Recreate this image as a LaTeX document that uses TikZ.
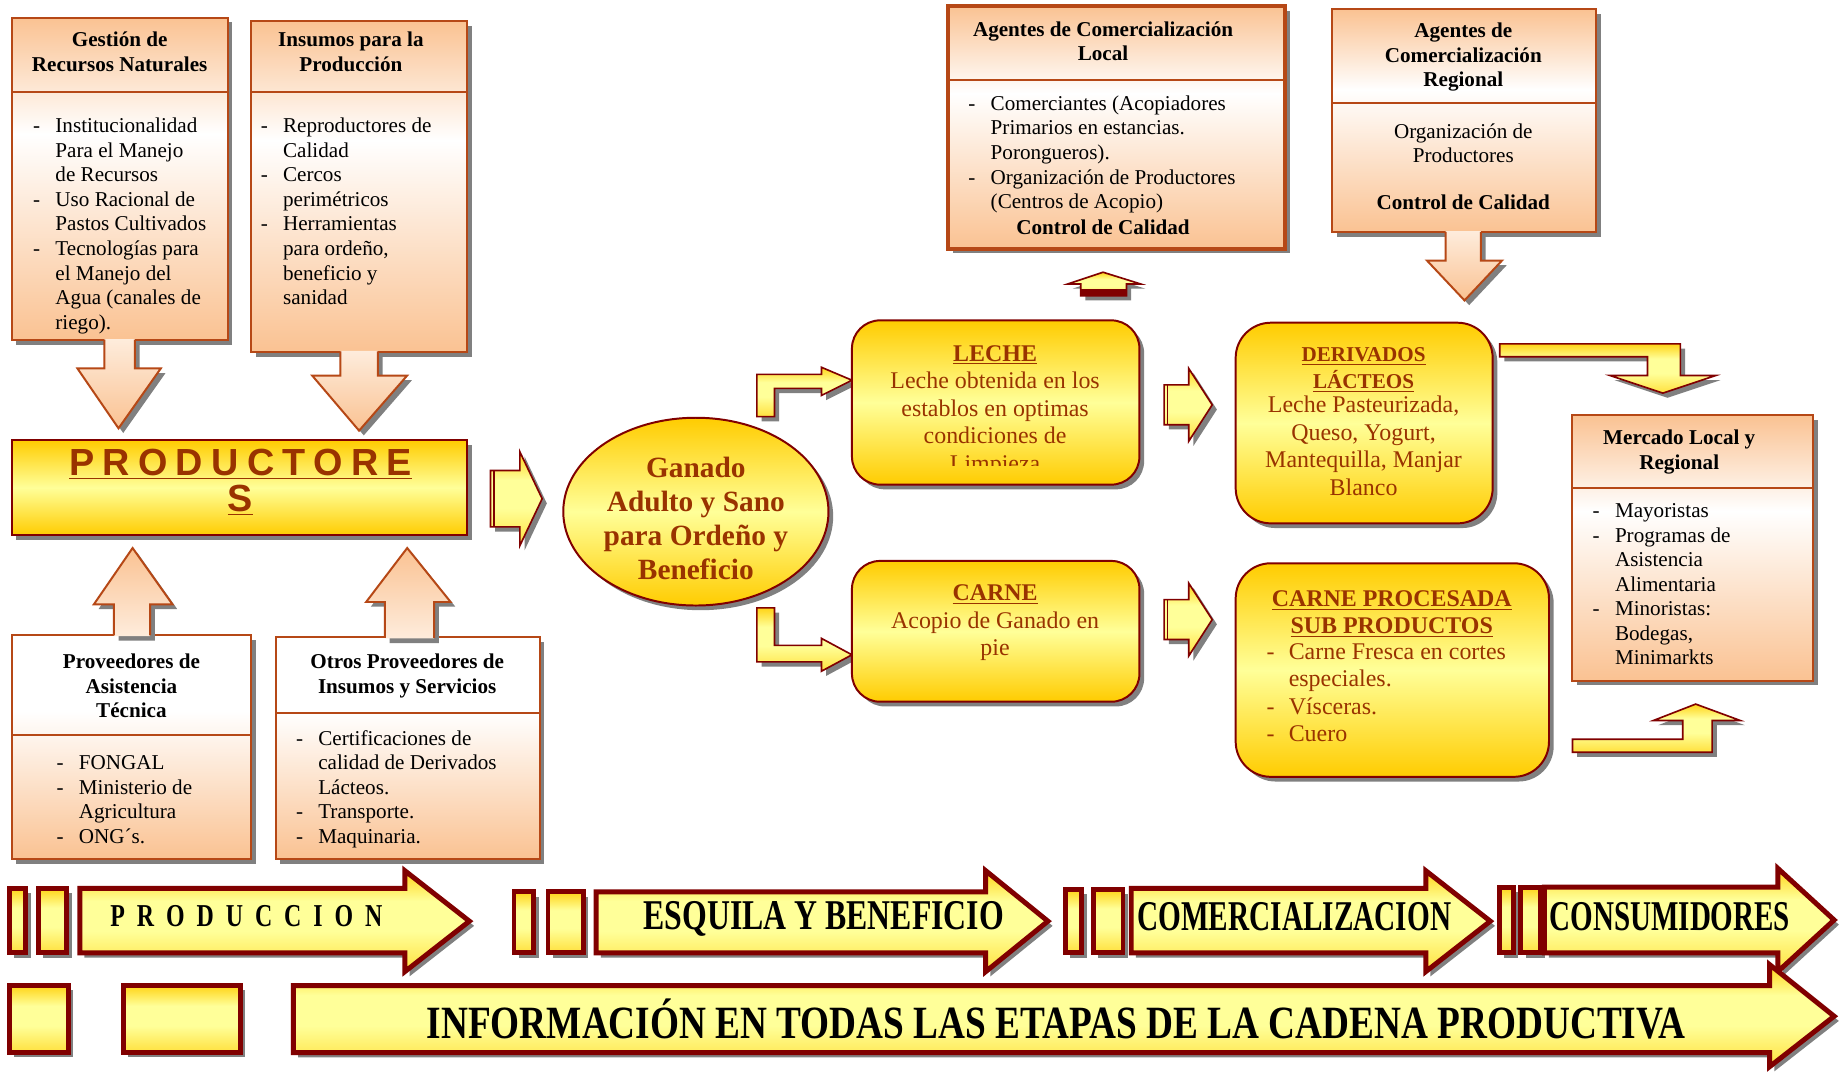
\documentclass[tikz,border=0pt]{standalone}
\usepackage{fontspec}
\setmainfont{Liberation Serif}
\newfontfamily\prodfont[LetterSpace=22]{Liberation Sans}
\usetikzlibrary{shadows}
\definecolor{peach}{RGB}{250,194,146}
\definecolor{peachlight}{RGB}{254,236,220}
\definecolor{rust}{RGB}{182,72,22}
\definecolor{gold}{RGB}{255,204,0}
\definecolor{paleyellow}{RGB}{255,255,153}
\definecolor{maroon}{RGB}{128,0,0}
\definecolor{brownred}{RGB}{153,51,0}
\definecolor{shadowgray}{RGB}{128,128,128}
\pgfdeclareverticalshading{peachmid}{100bp}{color(0bp)=(peach); color(25bp)=(peach); color(57bp)=(white); color(75bp)=(peach); color(100bp)=(peach)}
\pgfdeclareverticalshading{peachlow}{100bp}{color(0bp)=(peach); color(25bp)=(peach); color(58bp)=(white); color(100bp)=(white)}
\pgfdeclareverticalshading{peachdown}{100bp}{color(0bp)=(peach); color(25bp)=(peach); color(75bp)=(peachlight); color(100bp)=(peachlight)}
\pgfdeclareverticalshading{peachup}{100bp}{color(0bp)=(peachlight); color(25bp)=(peachlight); color(75bp)=(peach); color(100bp)=(peach)}
\pgfdeclareverticalshading{goldmid}{100bp}{color(0bp)=(gold); color(25bp)=(gold); color(50bp)=(paleyellow); color(75bp)=(gold); color(100bp)=(gold)}
\pgfdeclareverticalshading{arrowgold}{100bp}{color(0bp)=(gold!60!paleyellow); color(25bp)=(gold!60!paleyellow); color(45bp)=(paleyellow); color(60bp)=(paleyellow); color(75bp)=(gold!85!paleyellow); color(100bp)=(gold!85!paleyellow)}
\newcommand{\dashitem}{\makebox[13.5pt][l]{-}}
\newcommand{\noitem}{\hspace*{13.5pt}}
\newcommand{\narrow}[2]{\scalebox{#1}[1]{#2}}
\tikzset{
shade box/.style={drop shadow={shadow xshift=0.1cm, shadow yshift=-0.1cm, fill=shadowgray, opacity=1}},
peachbox/.style={draw=rust, line width=1.2pt, shade, shading=peachmid, shade box},
peachlowbox/.style={draw=rust, line width=1.2pt, shade, shading=peachlow, shade box},
goldbox/.style={draw=maroon, line width=1.2pt, shade, shading=goldmid, shade box},
rustline/.style={draw=rust, line width=1.2pt},
peachdownfill/.style={shade, shading=peachdown, shade box},
peachupfill/.style={shade, shading=peachup, shade box},
goldarrow/.style={draw=maroon, line width=1pt, line join=miter, shade, shading=arrowgold, shade box},
bandarrow/.style={draw=maroon, line width=3pt, line join=miter, shade, shading=arrowgold, shade box},
boxhead/.style={inner sep=0pt, align=center, font=\bfseries\fontsize{12.8}{14.9}\selectfont},
boxtext/.style={inner sep=0pt, align=left, font=\fontsize{12.8}{14.9}\selectfont},
goldtext/.style={inner sep=0pt, align=center, text=brownred, font=\fontsize{14.5}{16.7}\selectfont},
bandtext/.style={inner sep=0pt, font=\bfseries\fontsize{25.7}{28}\selectfont}
}
\begin{document}
\begin{tikzpicture}[x=0.025cm, y=-0.025cm]
\fill[white] (0,0) rectangle (1568,913);
\useasboundingbox (0,0) rectangle (1568,913);

\path[peachbox] (10,15) rectangle (194,290);
\draw[rustline] (10,78) -- (194,78);
\node[boxhead, anchor=north] (gestionT) at (102,25) {\strut Gestión de\\Recursos Naturales};
\node[boxtext, anchor=north west] (gestionB) at (28,98) {\strut\dashitem Institucionalidad\\\noitem Para el Manejo\\\noitem de Recursos\\\dashitem Uso Racional de\\\noitem Pastos Cultivados\\\dashitem Tecnologías para\\\noitem el Manejo del\\\noitem Agua (canales de\\\noitem riego).};
\path[peachbox] (214,18) rectangle (398,300);
\draw[rustline] (214,78) -- (398,78);
\node[boxhead, anchor=north] (insumosT) at (299,25) {\strut Insumos para la\\Producción};
\node[boxtext, anchor=north west] (insumosB) at (222,98) {\strut\dashitem Reproductores de\\\noitem Calidad\\\dashitem Cercos\\\noitem perimétricos\\\dashitem Herramientas\\\noitem para ordeño,\\\noitem beneficio y\\\noitem sanidad};
\path[peachdownfill] (89,289) -- (115,289) -- (115,314) -- (137,314) -- (101,365) -- (66,314) -- (89,314) -- cycle;
\draw[rustline] (89,289.5) -- (89,314) -- (66,314) -- (101,365) -- (137,314) -- (115,314) -- (115,289.5);
\path[peachdownfill] (290,299) -- (322,299) -- (322,320) -- (347,320) -- (306,367) -- (266,320) -- (290,320) -- cycle;
\draw[rustline] (290,299.5) -- (290,320) -- (266,320) -- (306,367) -- (347,320) -- (322,320) -- (322,299.5);

\path[goldbox] (10,375) rectangle (398,456);
\node[inner sep=0pt, align=center, text=brownred, font=\prodfont\bfseries\fontsize{22.9}{21.5}\selectfont] (productores) at (205,411) {\underline{PRODUCTORE}\\\underline{S}};
\path[goldarrow] (418,401) -- (443,401) -- (443,385) -- (462,425) -- (443,465) -- (443,449) -- (418,449) -- cycle;
\draw[maroon, line width=1pt] (421,401) -- (421,449);

\path[peachlowbox] (10,541) rectangle (214,732);
\draw[rustline] (10,626) -- (214,626);
\node[boxhead, anchor=north] (proveedoresT) at (112,555) {\strut Proveedores de\\Asistencia\\Técnica};
\node[boxtext, anchor=north west] (proveedoresB) at (48,641) {\strut\dashitem FONGAL\\\dashitem Ministerio de\\\noitem Agricultura\\\dashitem ONG´s.};
\path[peachlowbox] (235,543) rectangle (460,732);
\draw[rustline] (235,608) -- (460,608);
\node[boxhead, anchor=north] (otrosT) at (347,555) {\strut Otros Proveedores de\\Insumos y Servicios};
\node[boxtext, anchor=north west] (otrosB) at (252,620) {\strut\dashitem Certificaciones de\\\noitem calidad de Derivados\\\noitem Lácteos.\\\dashitem Transporte.\\\dashitem Maquinaria.};
\path[peachupfill] (97,542) -- (97,515) -- (80,515) -- (113,467) -- (147,515) -- (128,515) -- (128,542) -- cycle;
\draw[rustline] (97,541.5) -- (97,515) -- (80,515) -- (113,467) -- (147,515) -- (128,515) -- (128,541.5);
\path[peachupfill] (328,544) -- (328,513) -- (312,513) -- (347,467) -- (384,513) -- (370,513) -- (370,544) -- cycle;
\draw[rustline] (328,543.5) -- (328,513) -- (312,513) -- (347,467) -- (384,513) -- (370,513) -- (370,543.5);

\path[goldbox] (593,436) ellipse [x radius=113, y radius=80];
\node[goldtext, anchor=north, font=\bfseries\fontsize{17.8}{20.6}\selectfont] (ganado) at (593,386) {\strut Ganado\\Adulto y Sano\\para Ordeño y\\Beneficio};
\path[goldarrow] (645,355) -- (645,319) -- (700,319) -- (700,313) -- (726,324) -- (700,337) -- (700,331) -- (660,331) -- (660,355) -- cycle;
\path[goldarrow] (645,518) -- (660,518) -- (660,550) -- (700,550) -- (700,544) -- (726,558) -- (700,572) -- (700,564) -- (645,564) -- cycle;

\path[goldbox, rounded corners=0.6cm] (726,273) rectangle (971,413);
\begin{scope}
\clip (727,274) rectangle (970,397);
\node[goldtext, anchor=north] (leche) at (848,291) {\strut\textbf{\underline{LECHE}}\\Leche obtenida en los\\establos en optimas\\condiciones de\\Limpieza};
\end{scope}
\path[goldbox, rounded corners=0.6cm] (726,478) rectangle (971,598);
\node[goldtext, anchor=north] (carne) at (848,495) {\strut\textbf{\underline{CARNE}}\\Acopio de Ganado en\\pie};
\path[goldarrow] (992,328) -- (1013,328) -- (1013,314) -- (1033,345) -- (1013,376) -- (1013,362) -- (992,362) -- cycle;
\draw[maroon, line width=1pt] (995,328) -- (995,362);
\path[goldarrow] (992,511) -- (1013,511) -- (1013,497) -- (1033,528) -- (1013,559) -- (1013,545) -- (992,545) -- cycle;
\draw[maroon, line width=1pt] (995,511) -- (995,545);

\path[peachbox, line width=2.4pt] (808,5) rectangle (1095,212);
\draw[rustline] (808,68) -- (1095,68);
\node[boxhead, anchor=north] (localT) at (940,16) {\strut Agentes de Comercialización\\Local};
\node[boxtext, anchor=north west] (localB) at (825,79) {\strut\dashitem Comerciantes (Acopiadores\\\noitem Primarios en estancias.\\\noitem Porongueros).\\\dashitem Organización de Productores\\\noitem (Centros de Acopio)};
\node[boxhead, anchor=north] (localC) at (940,185) {\strut Control de Calidad};
\path[goldarrow] (921,252) -- (921,242) -- (910,242) -- (940,232) -- (972,242) -- (960,242) -- (960,252) -- cycle;
\fill[maroon] (921,246) rectangle (960,252);

\path[peachbox] (1135,8) rectangle (1360,198);
\draw[rustline] (1135,88) -- (1360,88);
\node[boxhead, anchor=north] (regionalT) at (1247,17) {\strut Agentes de\\Comercialización\\Regional};
\node[boxtext, anchor=north, align=center] (regionalB) at (1247,103) {\strut Organización de\\Productores};
\node[boxhead, anchor=north] (regionalC) at (1247,164) {\strut Control de Calidad};
\path[peachdownfill] (1232,197) -- (1262,197) -- (1262,222) -- (1280,222) -- (1248,256) -- (1216,222) -- (1232,222) -- cycle;
\draw[rustline] (1232,197.5) -- (1232,222) -- (1216,222) -- (1248,256) -- (1280,222) -- (1262,222) -- (1262,197.5);

\path[goldbox, rounded corners=0.75cm] (1053,275) rectangle (1272,446);
\node[goldtext, anchor=north, font=\bfseries\fontsize{12.8}{14.9}\selectfont] (derivadosT) at (1162,293) {\strut\underline{DERIVADOS}\\\underline{LÁCTEOS}};
\node[goldtext, anchor=north] (derivadosB) at (1162,335) {\strut Leche Pasteurizada,\\Queso, Yogurt,\\Mantequilla, Manjar\\Blanco};
\path[goldbox, rounded corners=0.75cm] (1053,480) rectangle (1320,662);
\node[goldtext, anchor=north, font=\bfseries\fontsize{14.5}{16.7}\selectfont] (procesadaT) at (1186,500) {\strut\underline{CARNE PROCESADA}\\\underline{SUB PRODUCTOS}};
\node[goldtext, anchor=north west, align=left] (procesadaB) at (1079,545) {\strut\dashitem Carne Fresca en cortes\\\noitem especiales.\\\dashitem Vísceras.\\\dashitem Cuero};

\path[peachbox] (1340,354) rectangle (1545,580);
\draw[rustline] (1340,416) -- (1545,416);
\node[boxhead, anchor=north] (mercadoT) at (1431,364) {\strut Mercado Local y\\Regional};
\node[boxtext, anchor=north west] (mercadoB) at (1357,426) {\strut\dashitem Mayoristas\\\dashitem Programas de\\\noitem Asistencia\\\noitem Alimentaria\\\dashitem Minoristas:\\\noitem Bodegas,\\\noitem Minimarkts};
\path[goldarrow] (1278,293) -- (1432,293) -- (1432,320) -- (1462,320) -- (1417,335) -- (1372,320) -- (1404,320) -- (1404,304) -- (1278,304) -- cycle;
\path[goldarrow] (1340,630) -- (1434,630) -- (1434,614) -- (1409,614) -- (1445,600) -- (1483,614) -- (1459,614) -- (1459,641) -- (1340,641) -- cycle;

\path[bandarrow] (8,757) rectangle (22,812);
\path[bandarrow] (33,757) rectangle (57,812);
\path[bandarrow] (68,757) -- (345,757) -- (345,742) -- (400,785) -- (345,828) -- (345,812) -- (68,812) -- cycle;
\node[bandtext, font=\bfseries\fontsize{19.3}{22}\selectfont] (produccion) at (210,781) {\narrow{0.75}{\spaceskip=0.5em P R O D U C C I O N}};
\path[bandarrow] (438,760) rectangle (455,812);
\path[bandarrow] (467,760) rectangle (497,812);
\path[bandarrow] (508,760) -- (840,760) -- (840,742) -- (893,785) -- (840,828) -- (840,812) -- (508,812) -- cycle;
\node[bandtext] (esquila) at (702,783) {\narrow{0.75}{ESQUILA Y BENEFICIO}};
\path[bandarrow] (908,758) rectangle (922,812);
\path[bandarrow] (932,758) rectangle (957,812);
\path[bandarrow] (964,757) -- (1215,757) -- (1215,742) -- (1270,785) -- (1215,828) -- (1215,812) -- (964,812) -- cycle;
\node[bandtext] (comercializacion) at (1103,781) {\narrow{0.69}{COMERCIALIZACION}};
\path[bandarrow] (1278,756) rectangle (1290,812);
\path[bandarrow] (1296,756) rectangle (1313,812);
\path[bandarrow] (1316,756) -- (1515,756) -- (1515,740) -- (1563,784) -- (1515,828) -- (1515,812) -- (1316,812) -- cycle;
\node[bandtext] (consumidores) at (1423,781) {\narrow{0.685}{CONSUMIDORES}};
\path[bandarrow] (8,840) rectangle (58,897);
\path[bandarrow] (105,840) rectangle (205,897);
\path[bandarrow] (250,840) -- (1508,840) -- (1508,822) -- (1563,866) -- (1508,909) -- (1508,897) -- (250,897) -- cycle;
\node[bandtext, font=\bfseries\fontsize{28}{30}\selectfont] (informacion) at (900,868) {\narrow{0.807}{INFORMACIÓN EN TODAS LAS ETAPAS DE LA CADENA PRODUCTIVA}};
\end{tikzpicture}
\end{document}
